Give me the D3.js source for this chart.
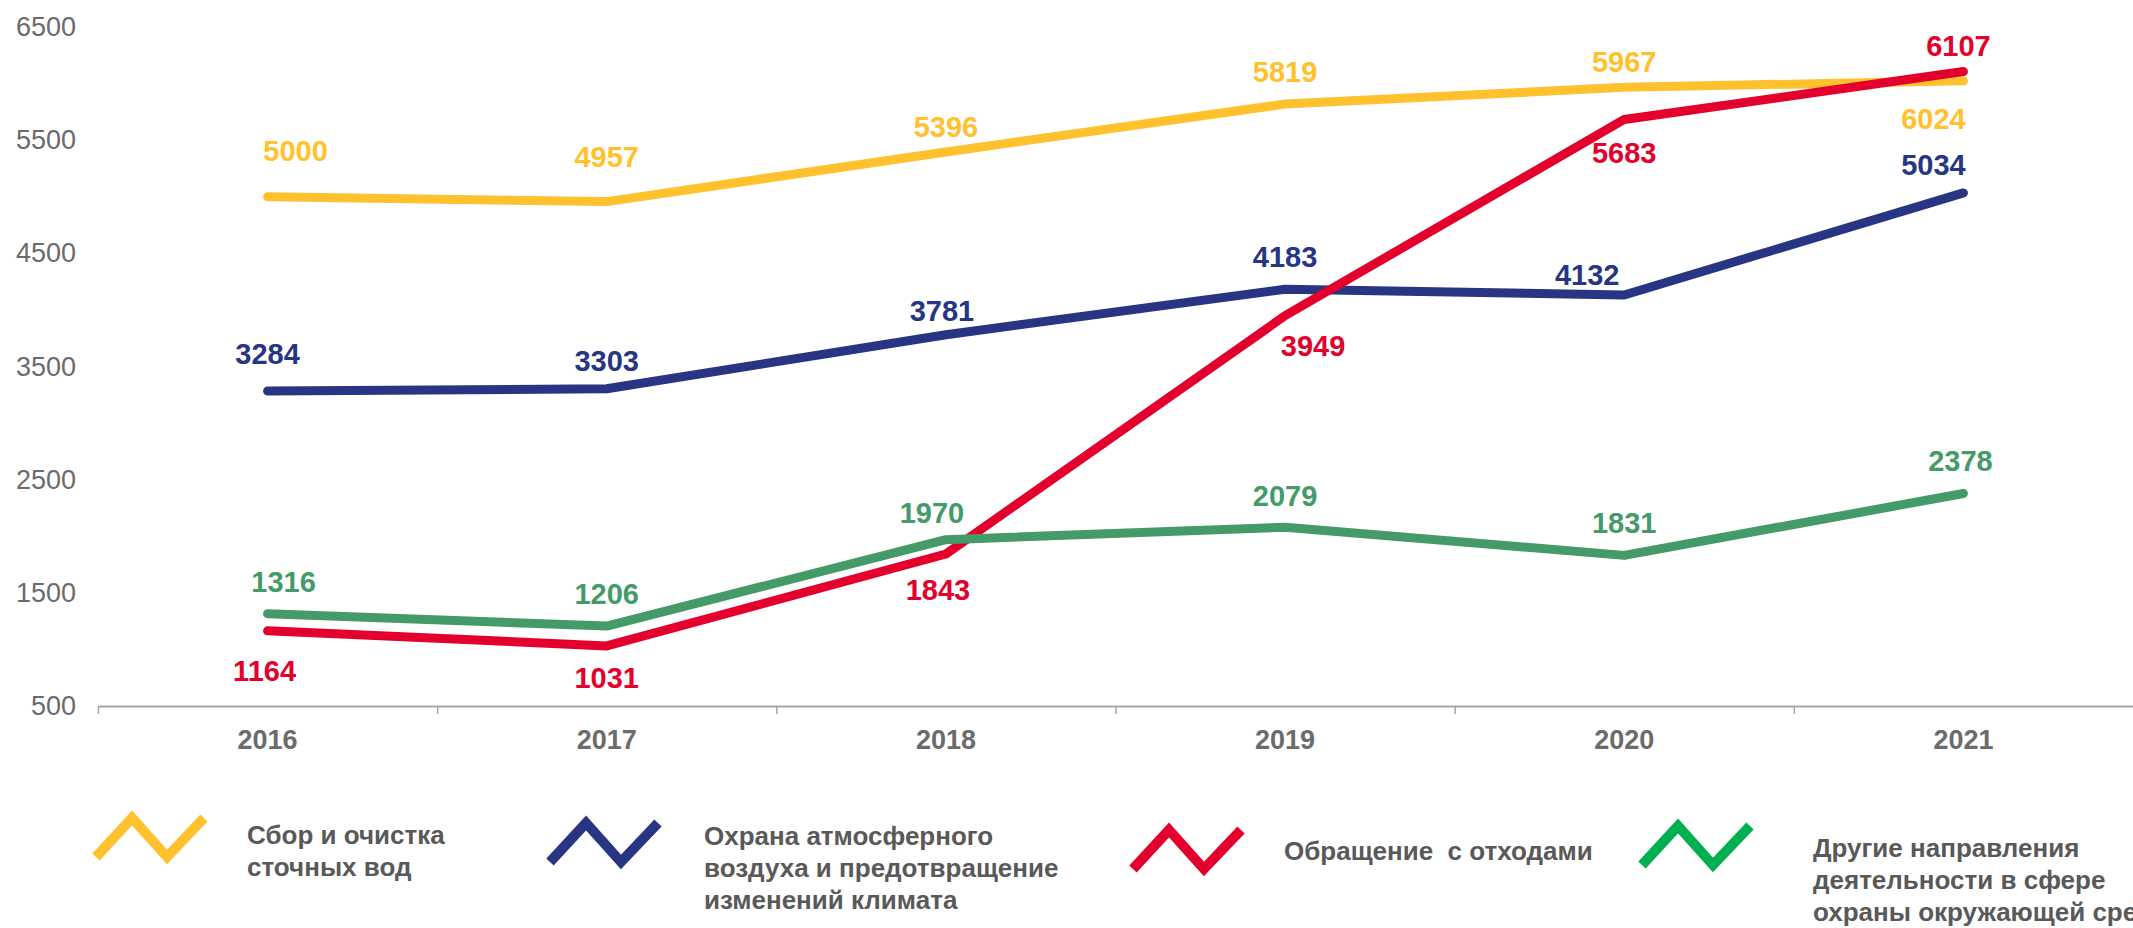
<!DOCTYPE html>
<html>
<head>
<meta charset="utf-8">
<script src="https://cdn.jsdelivr.net/npm/d3@7"></script>
<style>
  html, body { margin: 0; padding: 0; background: #fff; overflow: hidden; }
  svg { display: block; }
</style>
</head>
<body>
<svg id="chart" width="2133" height="928"></svg>
<script>
// years on the x axis
var years = ["2016", "2017", "2018", "2019", "2020", "2021"];

// series values
var wasteWater = [5000, 4957, 5396, 5819, 5967, 6024];
var airClimate = [3284, 3303, 3781, 4183, 4132, 5034];
var wasteMgmt  = [1164, 1031, 1843, 3949, 5683, 6107];
var otherEnv   = [1316, 1206, 1970, 2079, 1831, 2378];

// y tick labels
var yTicks = [500, 1500, 2500, 3500, 4500, 5500, 6500];

// legend names (lines of text)
var names = [
  ["Сбор и очистка", "сточных вод"],
  ["Охрана атмосферного", "воздуха и предотвращение", "изменений климата"],
  ["Обращение  с отходами"],
  ["Другие направления", "деятельности в сфере", "охраны окружающей среды"]
];

var svg = d3.select('#chart'),
    width  = +svg.attr("width"),
    height = +svg.attr("height");

var x = d3.scaleBand().domain(years).range([98, 2133]);
var y = d3.scaleLinear().domain([500, 6500]).range([706, 27]);

// series setup: colour, legend colour, label side (1 = above, -1 = below), label nudges
var series = [
  { values: wasteWater, color: "#FFC12E", legend: "#FFC12E",
    side: [1, 1, 1, 1, 1, -1],     dx: [28, 0, 0, 0, 0, -30],   dy: [-14, -13, 7, 0, 7, 0] },
  { values: airClimate, color: "#283583", legend: "#283583",
    side: [1, 1, 1, 1, 1, 1],      dx: [0, 0, -4, 0, -37, -30], dy: [-5, 4, 8, 0, 12, 4] },
  { values: wasteMgmt,  color: "#E3002C", legend: "#E3002C",
    side: [-1, -1, -1, -1, -1, 1], dx: [-3, 0, -8, 28, 0, -5],  dy: [2, -6, -2, -8, -4, 7] },
  { values: otherEnv,   color: "#459A69", legend: "#00B050",
    side: [1, 1, 1, 1, 1, 1],      dx: [16, 0, -14, 0, 0, -3],  dy: [0, 0, 5, 1, 0, 0] }
];

var cx = function (i) { return x(years[i]) + x.bandwidth() / 2; };

// y axis (labels only)
var yAxis = svg.append("g")
    .attr("transform", "translate(76,0)")
    .call(d3.axisLeft(y).tickValues(yTicks).tickSize(0).tickPadding(0).tickFormat(d3.format("d")));
yAxis.select(".domain").remove();
yAxis.selectAll("text")
    .attr("font-family", "Liberation Sans, Arial, sans-serif")
    .attr("font-size", 27)
    .attr("fill", "#6B6B6B");

// x axis
var xAxis = svg.append("g")
    .attr("transform", "translate(0," + y(500) + ")")
    .call(d3.axisBottom(x).tickSize(0).tickPadding(24));
xAxis.select(".domain")
    .attr("stroke", "#A6A6A6")
    .attr("stroke-width", 2);
xAxis.selectAll("text")
    .attr("font-family", "Liberation Sans, Arial, sans-serif")
    .attr("font-weight", "bold")
    .attr("font-size", 27)
    .attr("fill", "#6B6B6B");

// tick marks between categories
xAxis.selectAll(".sep")
    .data(years)
  .enter().append("line")
    .attr("class", "sep")
    .attr("x1", function (d) { return x(d) + 0.5; })
    .attr("x2", function (d) { return x(d) + 0.5; })
    .attr("y1", 0)
    .attr("y2", 8)
    .attr("stroke", "#A6A6A6")
    .attr("stroke-width", 1.5);

// lines
var line = d3.line()
    .x(function (d, i) { return cx(i); })
    .y(function (d) { return y(d); });

svg.selectAll(".series")
    .data(series)
  .enter().append("path")
    .attr("class", "series")
    .attr("d", function (s) { return line(s.values); })
    .attr("fill", "none")
    .attr("stroke", function (s) { return s.color; })
    .attr("stroke-width", 9)
    .attr("stroke-linecap", "round")
    .attr("stroke-linejoin", "round");

// data labels
series.forEach(function (s) {
  svg.append("g").selectAll("text")
      .data(s.values)
    .enter().append("text")
      .attr("x", function (d, i) { return cx(i) + s.dx[i]; })
      .attr("y", function (d, i) { return (s.side[i] > 0 ? y(d) - 22 : y(d) + 48) + s.dy[i]; })
      .attr("text-anchor", "middle")
      .attr("font-family", "Liberation Sans, Arial, sans-serif")
      .attr("font-weight", "bold")
      .attr("font-size", 29)
      .attr("fill", s.color)
      .text(function (d) { return d; });
});

// legend
var legendX = [96, 550, 1133, 1642];
var legendY = [818, 823, 830, 826];
var textX   = [247, 704, 1284, 1813];
var textY   = [844, 845, 860, 857];
var zig = [[0, 39], [36, 0], [71, 39], [108, 0]];

series.forEach(function (s, k) {
  svg.append("path")
      .attr("transform", "translate(" + legendX[k] + "," + legendY[k] + ")")
      .attr("d", d3.line()(zig))
      .attr("fill", "none")
      .attr("stroke", s.legend)
      .attr("stroke-width", 10)
      .attr("stroke-linejoin", "miter");

  var t = svg.append("text")
      .attr("x", textX[k])
      .attr("y", textY[k])
      .attr("font-family", "Liberation Sans, Arial, sans-serif")
      .attr("font-weight", "bold")
      .attr("font-size", 26)
      .attr("fill", "#595959");
  t.selectAll("tspan")
      .data(names[k])
    .enter().append("tspan")
      .attr("x", textX[k])
      .attr("dy", function (d, i) { return i === 0 ? 0 : 32; })
      .style("white-space", "pre")
      .text(function (d) { return d; });
});
</script>
</body>
</html>
